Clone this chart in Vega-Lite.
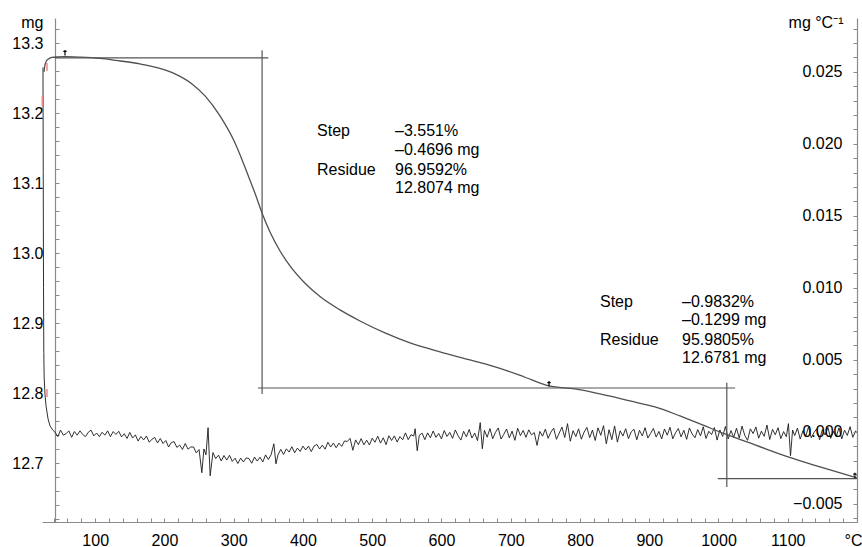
{
"$schema":"https://vega.github.io/schema/vega-lite/v6.json",
"width":815,"height":504,
"autosize":{"type":"none"},
"padding":{"left":42,"top":18,"right":5,"bottom":25},
"background":"white",
"config":{"view":{"stroke":null},"font":"Liberation Sans","axis":{"grid":false,"domainColor":"#8a8a8a","tickColor":"#8a8a8a","domainWidth":1.2,"tickWidth":1,"labelColor":"#000","labelFont":"Liberation Sans","labelFontSize":16,"titleFont":"Liberation Sans","titleFontSize":16,"titleFontWeight":"normal","titleColor":"#000"}},
"datasets":{
"dtg":[
{"T":24.6,"d":0.0253},{"T":25.0,"d":0.018},{"T":25.4,"d":0.010},{"T":25.8,"d":0.0055},{"T":26.3,"d":0.0038},{"T":27.5,"d":0.0026},{"T":29.0,"d":0.0018},{"T":31.9,"d":0.0009},{"T":34.8,"d":0.0004},{"T":39.0,"d":0.0001},
{"T":42,"d":-0.00004},{"T":46,"d":-0.00034},{"T":50,"d":0.00011},{"T":54,"d":-0.00024},{"T":58,"d":-0.00014},{"T":62,"d":0.00006},{"T":66,"d":-0.00039},{"T":70,"d":0.00001},{"T":74,"d":-0.00024},{"T":78,"d":0.00006},{"T":82,"d":-0.00019},{"T":86,"d":-0.00034},{"T":90,"d":-0.00004},{"T":94,"d":0.00011},{"T":98,"d":-0.00029},{"T":102,"d":-0.00009},{"T":106,"d":-0.00034},{"T":110,"d":-0.00004},{"T":114,"d":-0.00024},{"T":118,"d":0.00006},{"T":122,"d":-0.00034},{"T":126,"d":0.00001},{"T":130,"d":-0.00019},
{"T":134,"d":0.00003},{"T":138,"d":-0.00036},{"T":142,"d":-0.00014},{"T":146,"d":-0.00047},{"T":150,"d":-0.00005},{"T":154,"d":-0.00044},{"T":158,"d":-0.00022},{"T":162,"d":-0.00065},{"T":166,"d":-0.00033},{"T":170,"d":-0.00057},{"T":174,"d":-0.0003},{"T":178,"d":-0.00073},{"T":182,"d":-0.00052},{"T":186,"d":-0.0004},{"T":190,"d":-0.00078},
{"T":194,"d":-0.00047},{"T":198,"d":-0.00082},{"T":202,"d":-0.00061},{"T":206,"d":-0.00106},{"T":210,"d":-0.00075},{"T":214,"d":-0.00069},{"T":218,"d":-0.00109},{"T":222,"d":-0.00093},{"T":226,"d":-0.00123},{"T":230,"d":-0.00082},{"T":234,"d":-0.00121},{"T":238,"d":-0.00106},
{"T":242,"d":-0.00106},{"T":246,"d":-0.00147},{"T":250,"d":-0.00124},{"T":254,"d":-0.00285},{"T":257,"d":-0.0012},{"T":260,"d":-0.0016},{"T":263,"d":0.00028},{"T":266,"d":-0.00306},{"T":270,"d":-0.00145},{"T":274,"d":-0.00187},{"T":278,"d":-0.00163},
{"T":282,"d":-0.00203},{"T":286,"d":-0.00165},{"T":290,"d":-0.00197},{"T":294,"d":-0.00164},{"T":298,"d":-0.00206},{"T":302,"d":-0.00184},{"T":306,"d":-0.00221},{"T":310,"d":-0.00183},{"T":314,"d":-0.0021},{"T":318,"d":-0.00182},
{"T":322,"d":-0.00186},{"T":326,"d":-0.00219},{"T":330,"d":-0.00176},{"T":334,"d":-0.00204},{"T":338,"d":-0.00177},{"T":342,"d":-0.0021},{"T":346,"d":-0.00161},{"T":350,"d":-0.00193},{"T":354,"d":-0.0016},{"T":358,"d":-0.00084},{"T":361,"d":-0.00223},{"T":364,"d":-0.0016},
{"T":368,"d":-0.00123},{"T":372,"d":-0.00158},{"T":376,"d":-0.00119},{"T":380,"d":-0.00141},{"T":384,"d":-0.00104},{"T":388,"d":-0.00146},{"T":392,"d":-0.00114},{"T":396,"d":-0.00137},{"T":400,"d":-0.001},{"T":404,"d":-0.00127},{"T":408,"d":-0.001},{"T":412,"d":-0.00138},{"T":416,"d":-0.001},{"T":420,"d":-0.00088},{"T":424,"d":-0.0012},{"T":428,"d":-0.00093},{"T":432,"d":-0.00121},{"T":436,"d":-0.00073},{"T":440,"d":-0.00106},{"T":444,"d":-0.00079},{"T":448,"d":-0.00111},{"T":452,"d":-0.00079},{"T":456,"d":-0.00102},{"T":460,"d":-0.00064},
{"T":464,"d":-0.00068},{"T":468,"d":-0.00046},{"T":472,"d":-0.00129},{"T":476,"d":-0.00057},{"T":480,"d":-0.0009},{"T":484,"d":-0.00048},{"T":488,"d":-0.00091},{"T":492,"d":-0.00059},{"T":496,"d":-0.00092},{"T":500,"d":-0.00045},{"T":504,"d":-0.00073},{"T":508,"d":-0.00031},{"T":512,"d":-0.00079},{"T":516,"d":-0.00042},{"T":520,"d":-0.0009},{"T":524,"d":-0.00028},{"T":528,"d":-0.00061},{"T":532,"d":-0.00029},{"T":536,"d":-0.00072},{"T":540,"d":-0.00034},{"T":544,"d":-0.00056},{"T":548,"d":-0.00008},{"T":552,"d":-0.00055},{"T":556,"d":-0.00021},{"T":560,"d":-0.0003},{"T":562,"d":0.00021},{"T":565,"d":-0.00132},{"T":568,"d":-0.00025},
{"T":572,"d":-0.0001},{"T":576,"d":-0.00055},{"T":580,"d":-0.00008},{"T":584,"d":-0.00042},{"T":588,"d":0.00005},{"T":592,"d":-0.00039},{"T":596,"d":-0.00012},{"T":600,"d":-0.0005},{"T":604,"d":0.00008},{"T":608,"d":-0.00033},{"T":612,"d":-0.00005},{"T":616,"d":-0.00046},{"T":620,"d":0.00012},{"T":624,"d":-0.00028},{"T":628,"d":-0.00058},{"T":632,"d":0.00003},{"T":636,"d":-0.00036},{"T":640,"d":0.00016},{"T":644,"d":-0.00044},{"T":648,"d":-0.00009},{"T":652,"d":-0.00062},{"T":656,"d":0.00063},{"T":659,"d":-0.00118},{"T":662,"d":0.0001},{"T":666,"d":-0.00038},{"T":670,"d":0.00022},{"T":674,"d":-0.00049},{"T":678,"d":-0.00004},{"T":682,"d":0.00026},{"T":686,"d":-0.00051},{"T":690,"d":-0.00018},{"T":694,"d":0.00019},{"T":698,"d":-0.00043},{"T":702,"d":0.00004},{"T":706,"d":-0.0006},{"T":710,"d":0.00024},{"T":714,"d":-0.00027},{"T":718,"d":0.00009},{"T":722,"d":-0.00039},{"T":726,"d":0.00013},{"T":730,"d":-0.00022},{"T":734,"d":-0.00006},{"T":738,"d":-0.00095},{"T":742,"d":0.00002},{"T":746,"d":-0.00031},{"T":750,"d":0.00018},{"T":754,"d":-0.00046},{"T":758,"d":-0.00003},{"T":762,"d":0.00025},{"T":766,"d":-0.00053},{"T":770,"d":-0.0001},{"T":774,"d":0.00032},{"T":778,"d":-0.0004},{"T":782,"d":0.00056},{"T":786,"d":-0.00066},{"T":790,"d":0.00007},{"T":794,"d":-0.00034},{"T":798,"d":0.0002},{"T":802,"d":-0.00052},{"T":806,"d":-0.00002},{"T":810,"d":0.0003},{"T":814,"d":-0.00041},{"T":818,"d":0.00011},{"T":822,"d":-0.00061},{"T":826,"d":0.00027},{"T":830,"d":-0.00025},{"T":834,"d":0.00042},{"T":838,"d":-0.00084},{"T":842,"d":0.00014},{"T":846,"d":-0.00055},{"T":850,"d":0.0004},{"T":854,"d":-0.00072},{"T":858,"d":0.00006},{"T":862,"d":-0.0003},{"T":866,"d":0.00021},{"T":870,"d":-0.00048},{"T":874,"d":-0.00001},{"T":878,"d":0.00017},{"T":882,"d":-0.00056},{"T":886,"d":0.00009},{"T":890,"d":-0.00029},{"T":894,"d":0.00028},{"T":898,"d":-0.00044},{"T":902,"d":-0.00011},{"T":906,"d":0.00023},{"T":910,"d":-0.00037},{"T":914,"d":0.00002},{"T":918,"d":-0.0005},{"T":922,"d":0.00019},{"T":926,"d":-0.00024},{"T":930,"d":0.00031},{"T":934,"d":-0.00049},{"T":938,"d":-0.00007},{"T":942,"d":0.00022},{"T":946,"d":-0.00036},{"T":950,"d":0.0001},{"T":954,"d":-0.00053},{"T":958,"d":0.00026},{"T":962,"d":-0.00016},{"T":966,"d":-0.00042},{"T":970,"d":0.00015},{"T":974,"d":-0.00029},{"T":978,"d":0.00034},{"T":982,"d":-0.00047},{"T":986,"d":0.00003},{"T":990,"d":-0.0002},{"T":994,"d":0.00029},{"T":998,"d":-0.00058},{"T":1002,"d":0.00012},{"T":1006,"d":-0.00033},{"T":1010,"d":0.00036},{"T":1014,"d":-0.0005},{"T":1018,"d":0.00008},{"T":1022,"d":-0.00039},{"T":1026,"d":0.00024},{"T":1030,"d":-0.00044},{"T":1034,"d":0.00039},{"T":1038,"d":-0.00026},{"T":1042,"d":-0.0006},{"T":1046,"d":0.0002},{"T":1050,"d":-0.00013},{"T":1054,"d":0.00033},{"T":1058,"d":-0.00045},{"T":1062,"d":0.00004},{"T":1066,"d":-0.00032},{"T":1070,"d":0.00046},{"T":1074,"d":-0.00054},{"T":1078,"d":0.00016},{"T":1082,"d":-0.00021},{"T":1086,"d":0.00028},{"T":1090,"d":-0.00048},{"T":1094,"d":0.00001},{"T":1098,"d":-0.00035},{"T":1101,"d":0.00056},{"T":1104,"d":-0.00167},{"T":1107,"d":0.00012},{"T":1110,"d":-0.00027},{"T":1114,"d":0.00025},{"T":1118,"d":-0.00051},{"T":1122,"d":0.00007},{"T":1126,"d":-0.0003},{"T":1130,"d":0.00033},{"T":1134,"d":-0.00042},{"T":1138,"d":-0.00005},{"T":1142,"d":0.00021},{"T":1146,"d":-0.00056},{"T":1150,"d":0.00014},{"T":1154,"d":-0.00023},{"T":1158,"d":0.0003},{"T":1162,"d":-0.00046},{"T":1166,"d":0.00002},{"T":1170,"d":-0.00034},{"T":1174,"d":0.00027},{"T":1178,"d":-0.0005},{"T":1182,"d":0.00011},{"T":1186,"d":-0.00026},{"T":1190,"d":0.00035},{"T":1194,"d":-0.00039},{"T":1198,"d":0.00006},{"T":1200,"d":-0.0001}
],
"tg":[
{"T":26.1,"m":13.259},{"T":27.5,"m":13.269},{"T":29.7,"m":13.2747},{"T":32.6,"m":13.2775},{"T":37.6,"m":13.2797},{"T":46.3,"m":13.2804},{"T":56.4,"m":13.2807},{"T":78.1,"m":13.28},{"T":107,"m":13.2782},{"T":130,"m":13.2754},{"T":164.7,"m":13.2704},{"T":190.7,"m":13.2647},{"T":215.2,"m":13.2561},{"T":239.8,"m":13.2418},{"T":258.6,"m":13.2247},{"T":280.2,"m":13.1961},{"T":301.9,"m":13.1575},{"T":320.6,"m":13.1118},{"T":332.2,"m":13.0818},{"T":340.9,"m":13.0575},{"T":352.4,"m":13.0304},{"T":366.9,"m":13.0032},{"T":381.3,"m":12.9818},{"T":403,"m":12.957},{"T":424.6,"m":12.938},{"T":453.5,"m":12.919},{"T":482.4,"m":12.9032},{"T":518.5,"m":12.8861},{"T":554.6,"m":12.8718},{"T":597.9,"m":12.859},{"T":641.2,"m":12.8475},{"T":684.5,"m":12.8355},{"T":720.6,"m":12.8228},{"T":755.3,"m":12.8104},{"T":792.9,"m":12.8061},{"T":829,"m":12.7989},{"T":872.2,"m":12.7889},{"T":908.3,"m":12.7804},{"T":944.4,"m":12.7675},{"T":980.5,"m":12.7532},{"T":1009.4,"m":12.7418},{"T":1052.7,"m":12.7261},{"T":1100.4,"m":12.709},{"T":1146.6,"m":12.6947},{"T":1200,"m":12.679}
],
"rules":[
{"T":42,"T2":350,"m":13.279,"m2":13.279},
{"T":341,"T2":341,"m":13.29,"m2":12.799},
{"T":335,"T2":1024,"m":12.8074,"m2":12.8074},
{"T":1012,"T2":1012,"m":12.815,"m2":12.666},
{"T":999,"T2":1200,"m":12.6781,"m2":12.6781}
],
"red":[
{"T":30.4,"T2":30.4,"m":13.2718,"m2":13.2604},
{"T":23.6,"T2":23.6,"m":13.2247,"m2":13.2104},
{"T":30.4,"T2":30.4,"m":12.8061,"m2":12.7947}
],
"glyphs":[
{"T":56.4,"m":13.2865},{"T":755.3,"m":12.8134},{"T":1197,"m":12.6825}
],
"labels":[
{"T":420.3,"m":13.1747,"label":"Step"},
{"T":532.9,"m":13.1747,"label":"–3.551%"},
{"T":532.9,"m":13.1475,"label":"–0.4696 mg"},
{"T":420.3,"m":13.119,"label":"Residue"},
{"T":532.9,"m":13.119,"label":"96.9592%"},
{"T":532.9,"m":13.0932,"label":"12.8074 mg"},
{"T":828.9,"m":12.9308,"label":"Step"},
{"T":947.3,"m":12.9308,"label":"–0.9832%"},
{"T":947.3,"m":12.9047,"label":"–0.1299 mg"},
{"T":828.9,"m":12.8761,"label":"Residue"},
{"T":947.3,"m":12.8761,"label":"95.9805%"},
{"T":947.3,"m":12.85,"label":"12.6781 mg"}
]
},
"encoding":{"x":{"field":"T","type":"quantitative","scale":{"domain":[23.2,1200],"nice":false,"zero":false},
"axis":{"title":null,"values":[40,60,80,100,120,140,160,180,200,220,240,260,280,300,320,340,360,380,400,420,440,460,480,500,520,540,560,580,600,620,640,660,680,700,720,740,760,780,800,820,840,860,880,900,920,940,960,980,1000,1020,1040,1060,1080,1100,1120,1140,1160,1180,1200],
"format":"d","labelExpr":"datum.value % 100 == 0 ? (datum.value >= 1200 ? '°C' : datum.label) : ''","labelOverlap":false,"labelFlush":false,"tickSize":-4,"labelPadding":14,
"labelAlign":{"condition":{"test":"datum.value >= 1200","value":"right"},"value":"center"},
"labelOffset":{"condition":{"test":"datum.value >= 1200","value":5},"value":0}}}},
"layer":[
{"data":{"name":"dtg"},"mark":{"type":"line","stroke":"#1a1a1a","strokeWidth":0.9},
"encoding":{"y":{"field":"d","type":"quantitative","scale":{"domain":[-0.00627,0.02873],"nice":false,"zero":false},
"axis":{"orient":"right","title":"mg °C⁻¹","titleAngle":0,"titleAlign":"right","titleBaseline":"middle","titleX":-14,"titleY":4,"zindex":1,
"values":[-0.006,-0.005,-0.004,-0.003,-0.002,-0.001,0,0.001,0.002,0.003,0.004,0.005,0.006,0.007,0.008,0.009,0.01,0.011,0.012,0.013,0.014,0.015,0.016,0.017,0.018,0.019,0.02,0.021,0.022,0.023,0.024,0.025,0.026,0.027,0.028],
"labelExpr":"abs(datum.value*200 - round(datum.value*200)) < 0.01 ? format(datum.value, '.3f') : ''","labelOverlap":false,"labelFlush":false,"tickSize":-4,"labelPadding":-11,"labelAlign":"right"}}}},
{"encoding":{"y":{"field":"m","type":"quantitative","scale":{"domain":[12.616,13.336],"nice":false,"zero":false},
"axis":{"orient":"left","offset":-13,"title":"mg","titleAngle":0,"titleAlign":"right","titleBaseline":"middle","titleX":-12,"titleY":4,
"values":[12.62,12.64,12.66,12.68,12.7,12.72,12.74,12.76,12.78,12.8,12.82,12.84,12.86,12.88,12.9,12.92,12.94,12.96,12.98,13.0,13.02,13.04,13.06,13.08,13.1,13.12,13.14,13.16,13.18,13.2,13.22,13.24,13.26,13.28,13.3,13.32],
"labelExpr":"abs(datum.value*10 - round(datum.value*10)) < 0.001 ? format(datum.value, '.1f') : ''","labelOverlap":false,"labelFlush":false,"tickSize":-4,"labelPadding":16}}},
"layer":[
{"data":{"name":"tg"},"mark":{"type":"line","stroke":"#505050","strokeWidth":1.3,"interpolate":"monotone"},"encoding":{}},
{"data":{"name":"rules"},"mark":{"type":"rule","stroke":"#555555","strokeWidth":1.2},"encoding":{"x2":{"field":"T2"},"y2":{"field":"m2"}}},
{"data":{"name":"red"},"mark":{"type":"rule","stroke":"#f08a8a","strokeWidth":1.5},"encoding":{"x2":{"field":"T2"},"y2":{"field":"m2"}}},
{"data":{"name":"glyphs"},"mark":{"type":"point","shape":"M0,-1L0,1M-0.6,-0.45L0.6,-0.45","size":30,"filled":false,"stroke":"#000000","strokeWidth":1.2,"opacity":1},"encoding":{}},
{"data":{"name":"labels"},"mark":{"type":"text","align":"left","baseline":"middle","fontSize":16,"font":"Liberation Sans","fill":"#000000"},"encoding":{"text":{"field":"label"}}}
]}
],
"resolve":{"scale":{"y":"independent"}}
}
